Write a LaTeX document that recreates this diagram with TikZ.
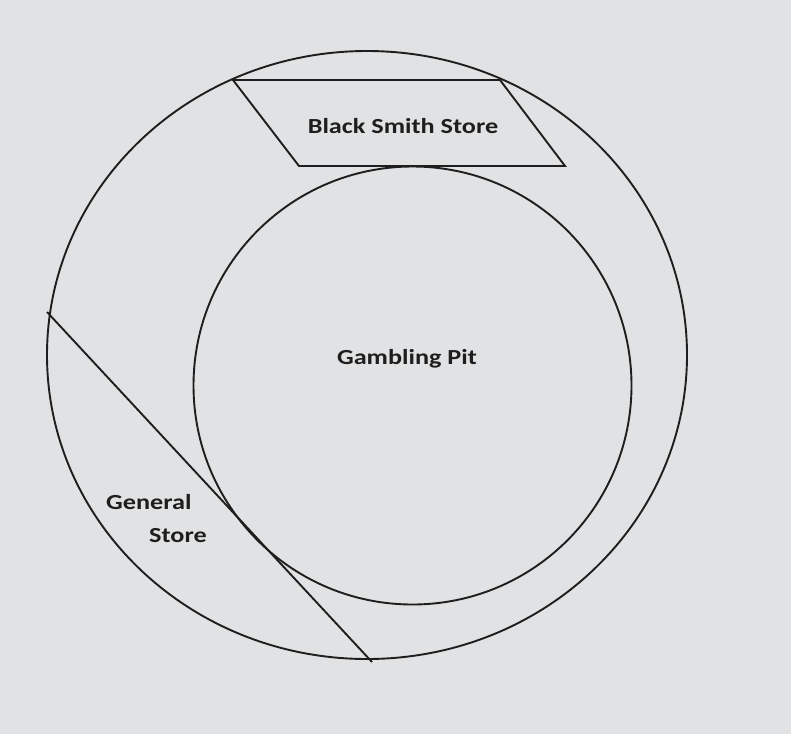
\documentclass[tikz,border=0pt]{standalone}
\usepackage{fontspec}
\setmainfont{Carlito}
\newfontfamily\lblfont[FakeStretch=1.22]{Carlito}
\usetikzlibrary{shapes.geometric}
\definecolor{bg}{HTML}{E1E2E3}
\definecolor{ink}{HTML}{1E1E1E}
\begin{document}
\begin{tikzpicture}[x=1pt,y=-1pt,
  shapeline/.style={draw=ink,line width=1.9pt},
  lbl/.style={font=\lblfont\fontsize{21.5}{25}\selectfont\bfseries,text=ink,inner sep=0pt}]
\fill[bg] (0,0) rectangle (791,734);
\useasboundingbox (0,0) rectangle (791,734);
% outer ring
\node[shapeline,ellipse,minimum width=640pt,minimum height=608pt,inner sep=0pt] (outer) at (367,355) {};
% inner circle
\node[shapeline,circle,minimum size=438pt,inner sep=0pt] (inner) at (412.5,385.5) {};
% black smith parallelogram
\coordinate (p1) at (233,80);
\coordinate (p2) at (500,80);
\coordinate (p3) at (565,166);
\coordinate (p4) at (299,166);
\draw[shapeline,line join=miter] (p1) -- (p2) -- (p3) -- (p4) -- cycle;
% general store divider
\coordinate (g1) at (47,312);
\coordinate (g2) at (372,662);
\draw[shapeline] (g1) -- (g2);
% labels
\node[lbl,anchor=base] (bs) at (403,133) {Black Smith Store};
\node[lbl,anchor=base] (gp) at (407,364) {Gambling Pit};
\node[lbl,anchor=base west] (gs1) at (106,509) {General};
\node[lbl,anchor=base west] (gs2) at (149,542) {Store};
\end{tikzpicture}
\end{document}
